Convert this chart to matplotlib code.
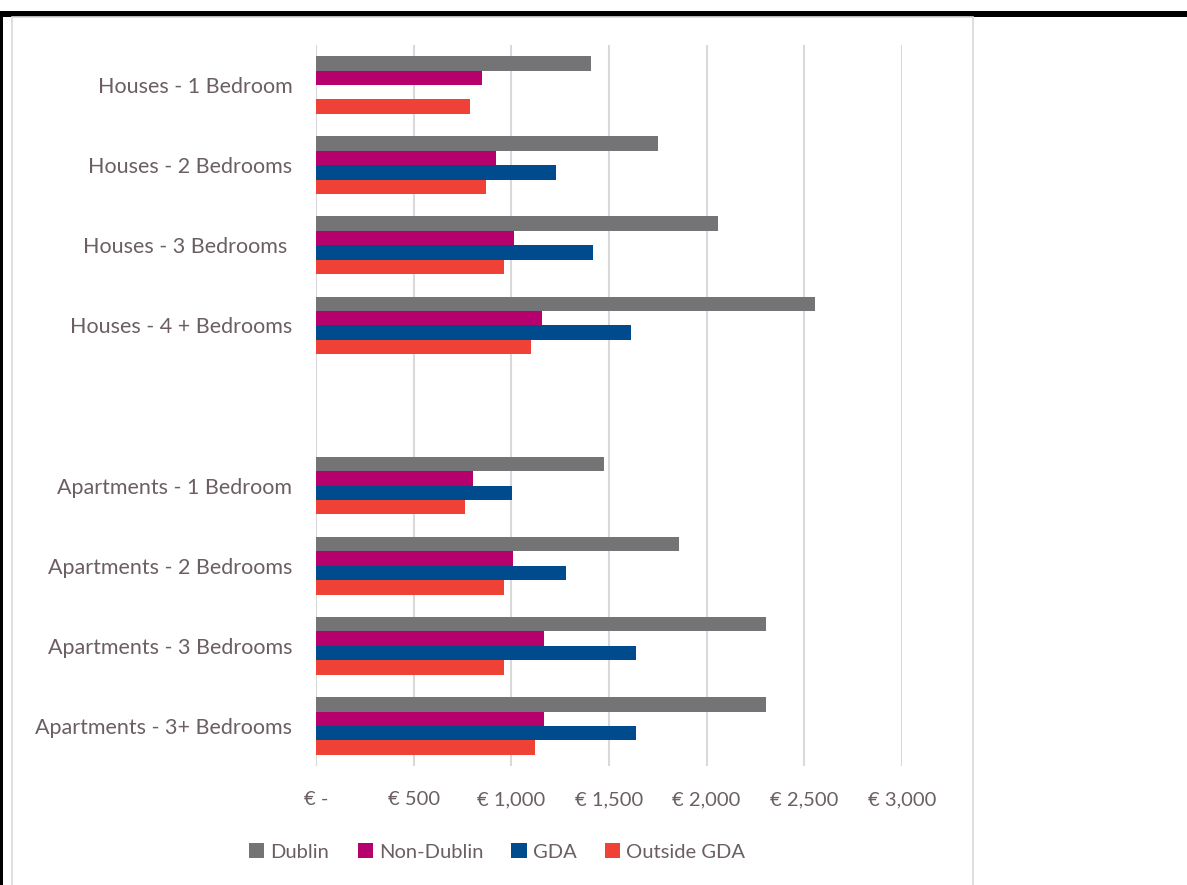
import numpy as np
import matplotlib
matplotlib.use('Agg')
import matplotlib.pyplot as plt
from matplotlib.patches import Rectangle
from matplotlib.ticker import FuncFormatter

plt.rcParams['font.family'] = ['Lato', 'DejaVu Sans']

# Monthly rents by property type and region
categories = ['Houses - 1 Bedroom', 'Houses - 2 Bedrooms', 'Houses - 3 Bedrooms ',
              'Houses - 4 + Bedrooms', '',
              'Apartments - 1 Bedroom', 'Apartments - 2 Bedrooms',
              'Apartments - 3 Bedrooms', 'Apartments - 3+ Bedrooms']
dublin = [1409, 1752, 2057, 2554, np.nan, 1473, 1856, 2306, 2306]
non_dublin = [849, 924, 1016, 1159, np.nan, 802, 1007, 1168, 1168]
gda = [np.nan, 1231, 1418, 1613, np.nan, 1003, 1278, 1637, 1637]
outside_gda = [786, 872, 964, 1100, np.nan, 761, 962, 962, 1123]

series = [('Dublin', dublin, '#747476'),
          ('Non-Dublin', non_dublin, '#B5006E'),
          ('GDA', gda, '#004B8D'),
          ('Outside GDA', outside_gda, '#EF4136')]

text_col = '#6B5F61'
grid_col = '#D9D9D9'

fig = plt.figure(figsize=(11.87, 8.85), dpi=100)

# page decorations: black rule at top, left border, chart frame
fig.add_artist(Rectangle((0, 1 - 17/885), 1, 6/885, transform=fig.transFigure,
                         facecolor='black', edgecolor='none'))
fig.add_artist(Rectangle((0, 0), 3/1187, 1 - 17/885, transform=fig.transFigure,
                         facecolor='black', edgecolor='none'))
fig.add_artist(Rectangle((12/1187, -0.01), (973 - 12)/1187, 1.01 - 17/885,
                         transform=fig.transFigure, facecolor='none',
                         edgecolor=grid_col, linewidth=1.2))

ax = fig.add_axes([316/1187, 1 - 766/885, 586/1187, 721/885])

y = np.arange(len(categories))
h = 0.18
for i, (name, vals, col) in enumerate(series):
    ax.barh(y + (i - 1.5) * h, vals, height=h, color=col, label=name)

ax.set_xlim(0, 3000)
ax.set_ylim(len(categories) - 0.5, -0.5)
ax.set_xticks(range(0, 3001, 500))
ax.xaxis.set_major_formatter(FuncFormatter(lambda v, p: '€ -' if v == 0 else f'€ {v:,.0f}'))
ax.set_yticks(y)
ax.set_yticklabels(categories)

ax.grid(axis='x', color=grid_col, linewidth=1.5)
ax.set_axisbelow(True)
for s in ax.spines.values():
    s.set_visible(False)
ax.tick_params(axis='both', length=0, colors=text_col)
ax.tick_params(axis='x', pad=18, labelsize=14.5)
ax.tick_params(axis='y', pad=17, labelsize=15.5)

fig.legend(loc='center', bbox_to_anchor=(497/1187, 1 - 852/885), ncol=4,
           frameon=False, fontsize=14.5, labelcolor=text_col,
           handlelength=0.75, handleheight=0.75, handletextpad=0.3,
           columnspacing=1.4)

fig.savefig('out.png', dpi=100)
